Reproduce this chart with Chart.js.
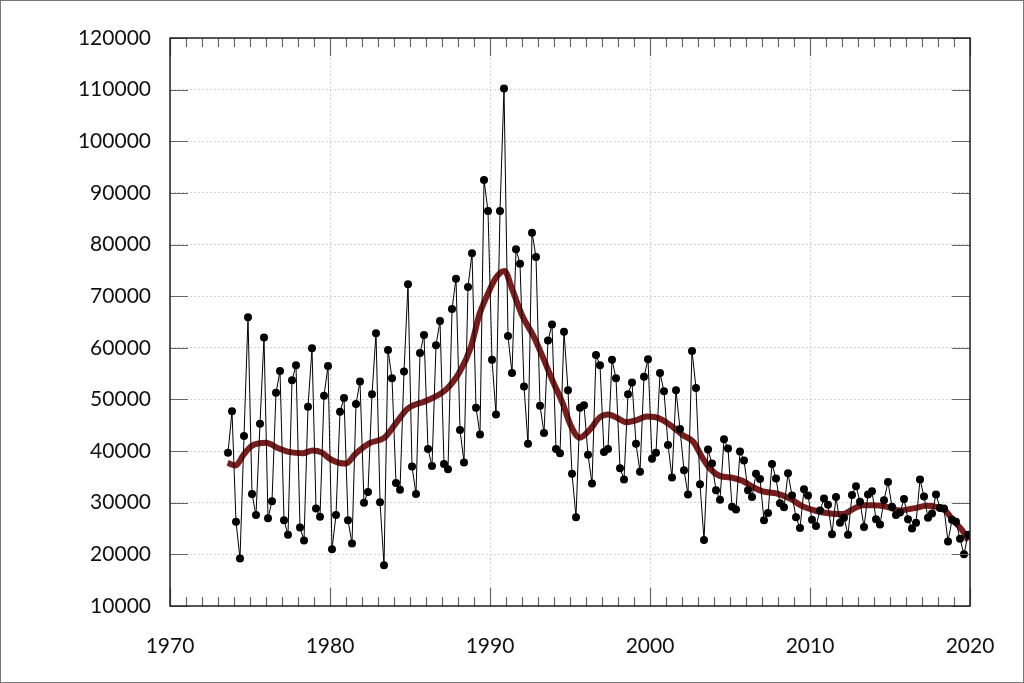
<!DOCTYPE html>
<html>
<head>
<meta charset="utf-8">
<script src="https://cdn.jsdelivr.net/npm/chart.js@4/dist/chart.umd.min.js"></script>
<style>
  html, body { margin: 0; padding: 0; background: #fff; }
  canvas { display: block; }
</style>
</head>
<body>
<canvas id="chart" width="1024" height="683"></canvas>
<script>
// Quarterly series, first value is Q3 1973, last is Q4 2019
const firstYear = 1973;
const firstQuarter = 3;
const quarterlyValues = [
  39700, 47700, 26300, 19200, 42900, 65900, 31700, 27600, 45300, 62000,
  27000, 30300, 51300, 55500, 26600, 23800, 53700, 56600, 25200, 22700,
  48600, 59900, 28900, 27300, 50700, 56500, 21000, 27600, 47600, 50300,
  26600, 22100, 49100, 53500, 30000, 32100, 51000, 62800, 30100, 17900,
  59600, 54100, 33800, 32500, 55400, 72300, 37000, 31700, 59000, 62500,
  40400, 37100, 60500, 65200, 37500, 36500, 67500, 73400, 44100, 37800,
  71800, 78300, 48400, 43200, 92500, 86500, 57700, 47100, 86500, 110200,
  62300, 55100, 79100, 76300, 52500, 41400, 82300, 77600, 48800, 43500,
  61400, 64500, 40400, 39600, 63100, 51800, 35600, 27200, 48400, 48900,
  39300, 33700, 58600, 56600, 39800, 40400, 57700, 54100, 36700, 34500,
  51000, 53300, 41400, 36000, 54400, 57800, 38500, 39700, 55100, 51600,
  41200, 34900, 51800, 44300, 36300, 31600, 59400, 52200, 33600, 22800,
  40300, 37600, 32400, 30600, 42300, 40500, 29200, 28700, 39900, 38200,
  32400, 31100, 35600, 34600, 26600, 28000, 37500, 34700, 29900, 29100,
  35700, 31400, 27200, 25100, 32600, 31400, 26700, 25500, 28500, 30800,
  29600, 23900, 31100, 26100, 27100, 23800, 31500, 33200, 30200, 25300,
  31600, 32200, 26800, 25800, 30500, 34000, 29200, 27600, 28100, 30700,
  26800, 25000, 26100, 34500, 31200, 27100, 27900, 31600, 29000, 28900,
  22500, 26700, 26300, 23000, 20000, 23800
];

// Smoothed trend line
const trendYears = [
  1973.6, 1974.1, 1974.6, 1975.1, 1976.0, 1976.8, 1977.5, 1978.3, 1978.9, 1979.5,
  1980.0, 1980.6, 1981.0, 1981.6, 1982.45, 1983.4, 1984.1, 1984.85, 1986.0, 1987.25,
  1988.1, 1988.8, 1989.35, 1989.8, 1990.4, 1990.9, 1991.4, 1992.05, 1992.7, 1993.3,
  1993.9, 1994.55, 1995.0, 1995.6, 1996.2, 1996.85, 1997.4, 1997.9, 1998.5, 1999.15,
  1999.8, 2000.3, 2000.8, 2001.45, 2002.05, 2002.7, 2003.3, 2003.75, 2004.35, 2005.2,
  2005.8, 2006.45, 2007.05, 2007.9, 2008.75, 2009.55, 2010.4, 2011.25, 2012.05, 2012.7,
  2013.3, 2013.95, 2014.8, 2015.6, 2016.45, 2017.3, 2017.9, 2018.45, 2018.95, 2019.5,
  2019.9
];
const trendValues = [
  37700, 37200, 39300, 41000, 41600, 40500, 39800, 39600, 40100, 39700,
  38500, 37700, 37600, 39500, 41500, 42600, 45300, 48200, 49700, 51900,
  55300, 60100, 66600, 70000, 73700, 74900, 71200, 66000, 62400, 58200,
  53700, 49200, 45300, 42600, 44000, 46500, 47100, 46500, 45600, 46000,
  46700, 46600, 46000, 44600, 43100, 41800, 38600, 36600, 35200, 34800,
  34200, 33000, 32200, 31800, 30800, 29300, 28400, 27900, 27800, 28800,
  29500, 29500, 29200, 28500, 28900, 29400, 29200, 28500, 26600, 24700,
  22700
];

const quarterlyPoints = quarterlyValues.map((v, i) => {
  const q = firstQuarter - 1 + i;
  const year = firstYear + Math.floor(q / 4);
  return { x: year + ((q % 4) + 0.5) / 4, y: v };
});
const trendPoints = trendYears.map((t, i) => ({ x: t, y: trendValues[i] }));

const fontFamily = 'Lato, "Open Sans", sans-serif';

// inward tick marks, plot frame and outer border
const framePlugin = {
  id: 'frame',
  afterDatasetsDraw(chart) {
    const { ctx, chartArea: a, scales } = chart;
    const xs = scales.x, ys = scales.y;
    ctx.save();
    ctx.strokeStyle = '#666';
    ctx.lineWidth = 1.2;
    ctx.beginPath();
    for (let yr = 1970; yr <= 2020; yr++) {
      const px = Math.round(xs.getPixelForValue(yr)) + 0.5;
      const len = yr % 10 === 0 ? 18 : 9;
      ctx.moveTo(px, a.bottom); ctx.lineTo(px, a.bottom - len);
      ctx.moveTo(px, a.top); ctx.lineTo(px, a.top + len);
    }
    for (let v = 10000; v <= 120000; v += 10000) {
      const py = Math.round(ys.getPixelForValue(v)) + 0.5;
      ctx.moveTo(a.left, py); ctx.lineTo(a.left + 18, py);
      ctx.moveTo(a.right, py); ctx.lineTo(a.right - 18, py);
    }
    ctx.stroke();
    ctx.strokeStyle = '#222';
    ctx.lineWidth = 1.5;
    ctx.strokeRect(a.left, a.top, a.right - a.left, a.bottom - a.top);
    ctx.strokeStyle = '#777';
    ctx.lineWidth = 1;
    ctx.strokeRect(0.5, 0.5, chart.width - 1, chart.height - 1);
    ctx.restore();
  }
};

new Chart(document.getElementById('chart'), {
  type: 'line',
  data: {
    datasets: [
      {
        label: 'Quarterly',
        data: quarterlyPoints,
        borderColor: '#000',
        borderWidth: 1,
        pointRadius: 4,
        pointBackgroundColor: '#000',
        pointBorderWidth: 0,
        tension: 0,
        order: 1
      },
      {
        label: 'Trend',
        data: trendPoints,
        borderColor: '#7a1c1c',
        borderWidth: 6,
        borderJoinStyle: 'round',
        pointRadius: 0,
        cubicInterpolationMode: 'monotone',
        order: 2
      }
    ]
  },
  options: {
    responsive: false,
    animation: false,
    layout: { padding: { top: 38, right: 54, left: 0, bottom: 0 } },
    plugins: { legend: { display: false }, tooltip: { enabled: false } },
    scales: {
      x: {
        type: 'linear',
        min: 1970,
        max: 2020,
        afterFit: s => { s.height = 77; },
        ticks: {
          stepSize: 10,
          padding: 28,
          maxRotation: 0,
          color: '#111',
          font: { family: fontFamily, size: 21 },
          callback: v => String(v)
        },
        grid: { color: '#d2d2d2', lineWidth: 1, drawTicks: false },
        border: { display: false, dash: [2, 2] }
      },
      y: {
        min: 10000,
        max: 120000,
        afterFit: s => { s.width = 170; },
        ticks: {
          stepSize: 10000,
          padding: 19,
          color: '#111',
          font: { family: fontFamily, size: 21 },
          callback: v => String(v)
        },
        grid: { color: '#d2d2d2', lineWidth: 1, drawTicks: false },
        border: { display: false, dash: [2, 2] }
      }
    }
  },
  plugins: [framePlugin]
});
</script>
</body>
</html>
